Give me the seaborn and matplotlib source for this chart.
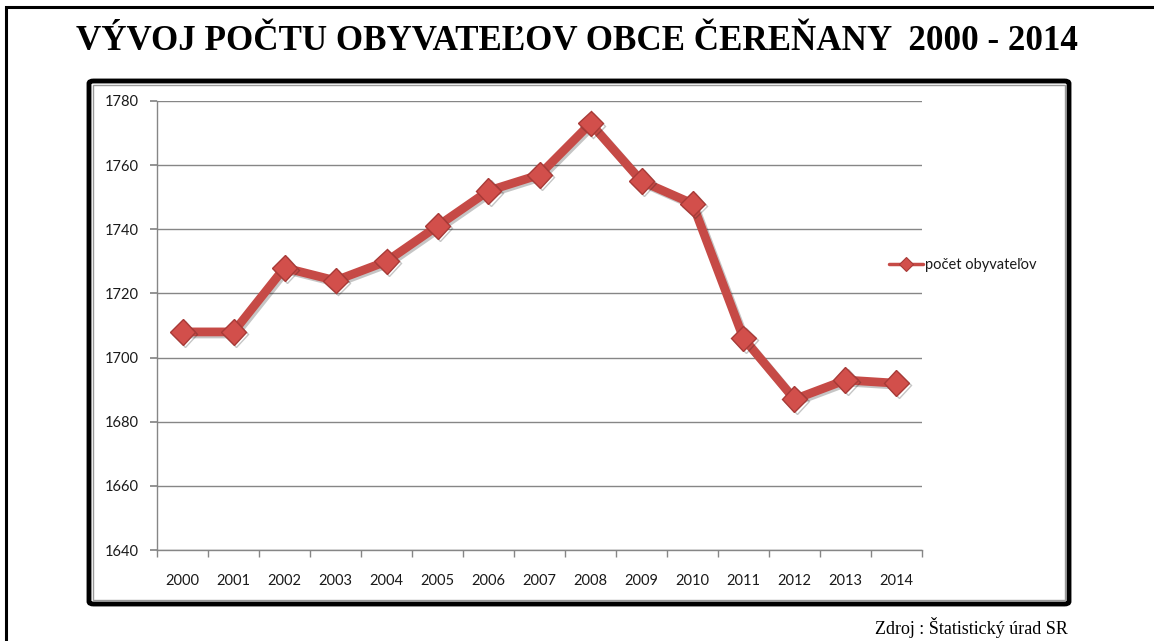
import matplotlib
matplotlib.use("Agg")
import matplotlib.pyplot as plt
import matplotlib.patheffects as pe
from matplotlib.patches import Rectangle, FancyBboxPatch
from matplotlib.lines import Line2D
from matplotlib.ticker import FixedLocator, MultipleLocator
import seaborn as sns
import pandas as pd

# Data
roky = ["2000", "2001", "2002", "2003", "2004", "2005", "2006", "2007",
        "2008", "2009", "2010", "2011", "2012", "2013", "2014"]
obyvatelia = [1708, 1708, 1728, 1724, 1730, 1741, 1752, 1757,
              1773, 1755, 1748, 1706, 1687, 1693, 1692]
nazov_serie = "počet obyvateľov"
nadpis = "VÝVOJ POČTU OBYVATEĽOV OBCE ČEREŇANY  2000 - 2014"
zdroj = "Zdroj : Štatistický úrad SR"

df = pd.DataFrame({"rok": roky, "pocet": obyvatelia})

sns.set_theme(style="white")
plt.rcParams["font.family"] = ["Lato", "DejaVu Sans"]

W, H = 1154, 641
fig = plt.figure(figsize=(W / 100, H / 100), dpi=100)
fig.patch.set_facecolor("white")

def fx(px):
    return px / W

def fy(py):
    return 1 - py / H

# outer page frame (runs off the right and bottom edges)
fig.add_artist(Rectangle((fx(6), fy(700)), fx(1200), (700 - 7) / H,
                         transform=fig.transFigure, fill=False,
                         edgecolor="black", linewidth=2.2))

# chart frame: thick black border with thin grey inner line
fig.add_artist(FancyBboxPatch((fx(89), fy(604)), fx(1069 - 89), (604 - 81) / H,
                              boxstyle="round,pad=0,rounding_size=0.004",
                              transform=fig.transFigure, fill=False,
                              edgecolor="black", linewidth=3.5))
fig.add_artist(Rectangle((fx(93), fy(600)), fx(1065 - 93), (600 - 85) / H,
                         transform=fig.transFigure, fill=False,
                         edgecolor="#9a9a9a", linewidth=1.0))

ax = fig.add_axes([fx(157), fy(550), fx(922 - 157), (550 - 101) / H])

line_color = "#C64A46"
marker_face = "#D24F4B"
marker_edge = "#A83A37"
sns.lineplot(data=df, x="rok", y="pocet", ax=ax, color=line_color,
             linewidth=6.3, marker="D", markersize=13,
             markerfacecolor=marker_face, markeredgecolor=marker_edge,
             markeredgewidth=1.0, sort=False, legend=False)
for ln in ax.lines:
    ln.set_path_effects([pe.SimpleLineShadow(offset=(1.5, -1.5), alpha=0.25),
                         pe.Normal()])

ax.set_xlim(-0.5, len(roky) - 0.5)
ax.set_ylim(1640, 1780)
ax.yaxis.set_major_locator(MultipleLocator(20))
ax.grid(axis="y", color="#868686", linewidth=1.0)
ax.grid(axis="x", visible=False)
ax.set_axisbelow(True)

for s in ["top", "right"]:
    ax.spines[s].set_visible(False)
for s in ["left", "bottom"]:
    ax.spines[s].set_color("#868686")
    ax.spines[s].set_linewidth(1.0)

ax.set_xlabel("")
ax.set_ylabel("")
ax.xaxis.set_minor_locator(FixedLocator([i - 0.5 for i in range(len(roky) + 1)]))
ax.tick_params(axis="x", which="major", length=0, pad=17, labelsize=10.5, labelcolor="#1a1a1a")
ax.tick_params(axis="x", which="minor", length=5, color="#868686", direction="out", bottom=True)
ax.tick_params(axis="y", which="major", length=5, color="#868686", direction="out",
               left=True, pad=8, labelsize=10.5, labelcolor="#1a1a1a")

legend_handle = Line2D([], [], color=line_color, linewidth=2.5, marker="D",
                       markersize=7, markerfacecolor=marker_face,
                       markeredgecolor=marker_edge, markeredgewidth=0.8)
fig.legend([legend_handle], [nazov_serie], loc="center left",
           bbox_to_anchor=(fx(889), fy(265)), frameon=False,
           handlelength=2.3, handletextpad=0.15, fontsize=10.5,
           labelcolor="#1a1a1a", borderaxespad=0, borderpad=0)

fig.text(fx(577), fy(41), nadpis, ha="center", va="center",
         family=["Liberation Serif", "DejaVu Serif"], fontweight="bold",
         fontsize=25.2, color="black")
fig.text(fx(1068), fy(627), zdroj, ha="right", va="center",
         family=["Liberation Serif", "DejaVu Serif"], fontsize=13, color="black")

fig.savefig("out.png", dpi=100, facecolor="white")
